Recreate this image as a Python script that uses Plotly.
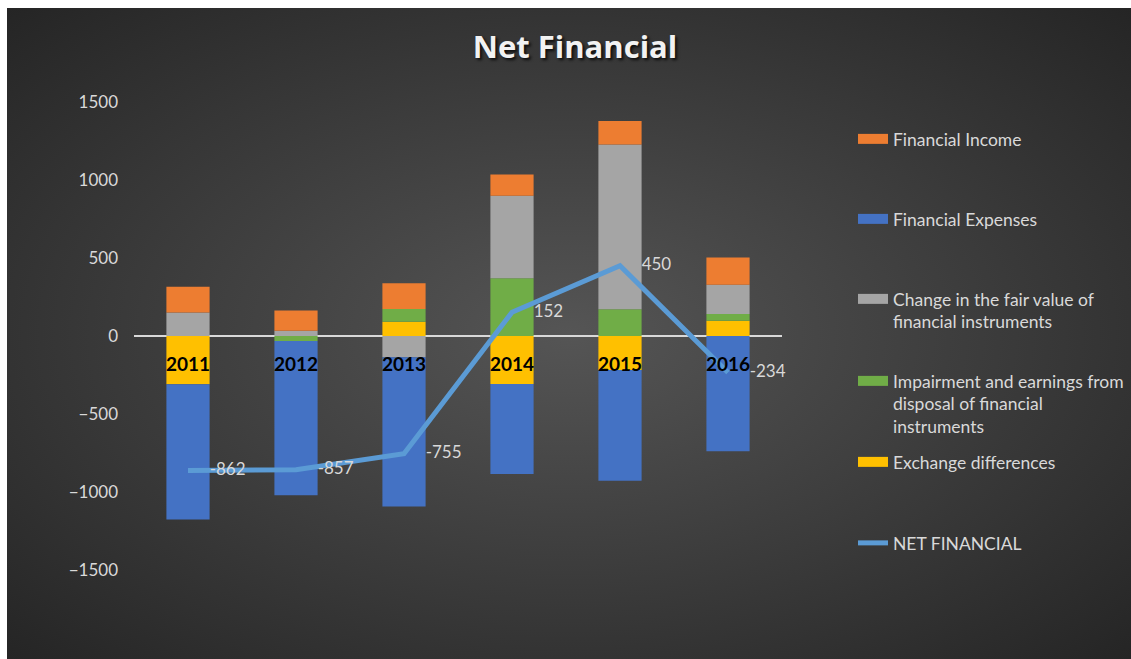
import base64
import plotly.graph_objects as go

# ---------------- data ----------------
years = ["2011", "2012", "2013", "2014", "2015", "2016"]
financial_income = [165, 130, 165, 137, 151, 175]
financial_expenses = [-867, -989, -956, -576, -710, -738]
fair_value_change = [150, 34, -137, 529, 1056, 188]
impairment = [0, -32, 81, 370, 171, 43]
exchange_differences = [-310, 0, 92, -308, -218, 98]
net_financial = [-862, -857, -755, 152, 450, -234]
net_labels = [str(v) for v in net_financial]
y_ticks = [-1500, -1000, -500, 0, 500, 1000, 1500]

series_names = [
    "Financial Income",
    "Financial Expenses",
    "Change in the fair value of<br>financial instruments",
    "Impairment and earnings from<br>disposal of financial<br>instruments",
    "Exchange differences",
    "NET FINANCIAL",
]

# ---------------- style ----------------
W, H = 1131, 659
L, R, T, B = 134, 349, 102, 89
C_ORANGE = "#ed7d31"
C_BLUE = "#4472c4"
C_GRAY = "#a5a5a5"
C_GREEN = "#70ad47"
C_YELLOW = "#ffc000"
C_LINE = "#5b9bd5"
TXT = "#d9d9d9"
FONT = "Lato"
EDGE = "#242424"

fig = go.Figure()

# stacked bars (stack order from zero outward)
bar_specs = [
    (exchange_differences, C_YELLOW),
    (impairment, C_GREEN),
    (fair_value_change, C_GRAY),
    (financial_expenses, C_BLUE),
    (financial_income, C_ORANGE),
]
for vals, col in bar_specs:
    fig.add_trace(go.Bar(x=years, y=vals, marker=dict(color=col, line=dict(width=0)),
                         width=0.4, showlegend=False, hoverinfo="x+y"))

# legend entries (one legend box each, to reproduce the spaced-out Excel legend)
legend_colors = [C_ORANGE, C_BLUE, C_GRAY, C_GREEN, C_YELLOW]
legend_ids = ["legend", "legend2", "legend3", "legend4", "legend5", "legend6"]
for name, col, lid in zip(series_names[:5], legend_colors, legend_ids[:5]):
    fig.add_trace(go.Scatter(x=[None], y=[None], mode="lines", name=name,
                             line=dict(color=col, width=10), legend=lid, hoverinfo="skip"))

# net financial line
fig.add_trace(go.Scatter(
    x=years, y=net_financial, mode="lines+markers+text", name=series_names[5],
    line=dict(color=C_LINE, width=5),
    marker=dict(size=33, color="rgba(0,0,0,0)"),
    text=net_labels, textposition="middle right",
    textfont=dict(family=FONT, size=17, color=TXT),
    legend="legend6", cliponaxis=False,
))

# radial gradient background as an svg image
svg = (
    '<svg xmlns="http://www.w3.org/2000/svg" width="1140" height="660" viewBox="0 0 100 100" preserveAspectRatio="none">'
    '<defs><radialGradient id="g" cx="0.5" cy="0.5" r="0.72">'
    '<stop offset="0" stop-color="#555555"/>'
    '<stop offset="1" stop-color="' + EDGE + '"/>'
    '</radialGradient></defs>'
    '<rect x="0" y="0" width="100" height="100" fill="url(#g)"/></svg>'
)
svg_uri = "data:image/svg+xml;base64," + base64.b64encode(svg.encode()).decode()
pw, ph = W - L - R, H - T - B
img_left, img_top = 7, 8


def px_x(p):
    return (p - L) / pw


def px_y(p):
    return (H - B - p) / ph


fig.add_layout_image(dict(
    source=svg_uri, xref="paper", yref="paper",
    x=px_x(img_left), y=px_y(img_top),
    sizex=(W - img_left) / pw, sizey=(H - img_top) / ph,
    xanchor="left", yanchor="top", sizing="stretch", layer="below",
))

# white page strips at top and left of the picture
fig.add_shape(type="rect", xref="paper", yref="paper", layer="above",
              x0=px_x(-2), x1=px_x(W + 2), y0=px_y(img_top), y1=px_y(-2),
              fillcolor="white", line=dict(width=0))
fig.add_shape(type="rect", xref="paper", yref="paper", layer="above",
              x0=px_x(-2), x1=px_x(img_left), y0=px_y(H + 2), y1=px_y(-2),
              fillcolor="white", line=dict(width=0))

# legends
legend_centers = [138, 218, 298, 380, 461, 542]
legend_layout = {}
for lid, yc in zip(legend_ids, legend_centers):
    legend_layout[lid] = dict(
        x=853 / W, xref="container", xanchor="left",
        y=1 - (yc - 17) / H, yref="container", yanchor="top",
        bgcolor="rgba(0,0,0,0)", borderwidth=0, valign="top",
        font=dict(family=FONT, size=17.5, color=TXT),
    )

fig.update_layout(
    width=W, height=H,
    margin=dict(l=L, r=R, t=T, b=B, pad=0),
    paper_bgcolor=EDGE,
    plot_bgcolor="rgba(0,0,0,0)",
    barmode="relative",
    title=dict(
        text="Net Financial", x=575 / W, xanchor="center", y=1 - 47 / H, yanchor="middle",
        font=dict(family="Open Sans", size=31, weight="bold", color="#f2f2f2",
                  shadow="2px 2px 3px rgba(0,0,0,0.8)"),
    ),
    xaxis=dict(
        type="category", showgrid=False, showline=False, zeroline=False,
        anchor="free", position=0.5, ticks="", ticklabelstandoff=15,
        tickfont=dict(family=FONT, size=19, weight="bold", color="black"),
    ),
    yaxis=dict(
        range=[-1500, 1500], tickvals=y_ticks, showgrid=False, showline=False,
        zeroline=True, zerolinecolor="#d9d9d9", zerolinewidth=2,
        ticks="", ticklabelstandoff=15,
        tickfont=dict(family=FONT, size=17, color=TXT),
    ),
    font=dict(family=FONT, color=TXT),
    **legend_layout,
)

fig.write_html("out.html")
